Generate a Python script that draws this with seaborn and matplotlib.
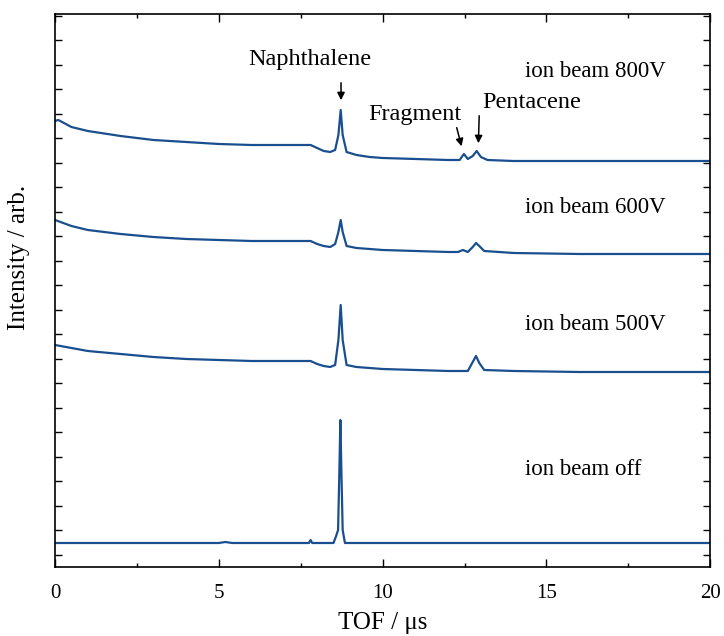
import numpy as np
import pandas as pd
import matplotlib
matplotlib.use("Agg")
import matplotlib.pyplot as plt
import seaborn as sns

# TOF in microseconds, intensity in arbitrary units (stacked traces)
tof_off = [0, 5.0, 5.2, 5.4, 6.5, 7.5, 7.75, 7.8, 7.85, 8.0, 8.5, 8.58, 8.64, 8.68, 8.71, 8.74, 8.78, 8.85, 9.5, 20]
int_off = [24, 24, 25, 24, 24, 24, 24, 27, 24, 24, 24, 31, 37, 97, 147, 97, 37, 24, 24, 24]

tof_500 = [0, 0.5, 1, 2, 3, 4, 5, 6, 7, 7.8, 8.0, 8.2, 8.4, 8.55, 8.65, 8.72, 8.78, 8.9, 9.2, 9.6,
           10, 11, 12, 12.6, 12.75, 12.85, 12.95, 13.1, 14, 16, 20]
int_500 = [222, 219, 216, 213, 210, 208, 207, 206, 206, 206, 203, 201, 200, 202, 227, 262, 227, 202, 200, 199,
           198, 197, 196, 196, 205, 211, 204, 197, 196, 195, 195]

tof_600 = [0, 0.5, 1, 2, 3, 4, 5, 6, 7, 7.8, 8.0, 8.2, 8.4, 8.55, 8.65, 8.72, 8.78, 8.9, 9.2, 9.6,
           10, 11, 12, 12.3, 12.45, 12.6, 12.75, 12.85, 12.95, 13.1, 14, 16, 20]
int_600 = [347, 341, 337, 333, 330, 328, 327, 326, 326, 326, 323, 321, 320, 323, 335, 347, 335, 321, 319, 318,
           317, 316, 315, 315, 317, 315, 320, 324, 321, 316, 314, 313, 313]

tof_800 = [0, 0.1, 0.5, 1, 2, 3, 4, 5, 6, 7, 7.8, 8.0, 8.2, 8.4, 8.55, 8.65, 8.72, 8.78, 8.9, 9.2, 9.6,
           10, 11, 12, 12.35, 12.48, 12.6, 12.75, 12.87, 13.0, 13.2, 14, 16, 20]
int_800 = [446, 447, 440, 436, 431, 427, 425, 423, 422, 422, 422, 419, 416, 415, 417, 432, 457, 432, 415, 412, 410,
           409, 408, 407, 407, 413, 408, 411, 416, 410, 407, 406, 406, 406]

traces = {"ion beam off": (tof_off, int_off),
          "ion beam 500V": (tof_500, int_500),
          "ion beam 600V": (tof_600, int_600),
          "ion beam 800V": (tof_800, int_800)}

sns.set_style("ticks", {"axes.edgecolor": "black", "text.color": "black", "axes.labelcolor": "black",
                        "xtick.color": "black", "ytick.color": "black"})
plt.rcParams["font.family"] = ["Liberation Serif", "DejaVu Serif"]

fig = plt.figure(figsize=(7.24, 6.36), dpi=100)
ax = fig.add_axes([0.076, 0.1085, 0.905, 0.8695])

color = "#1a4f8f"
for name, (x, y) in traces.items():
    df = pd.DataFrame({"tof": x, "intensity": y})
    sns.lineplot(data=df, x="tof", y="intensity", ax=ax, color=color, lw=1.6, sort=False)

ax.set_xlim(0, 20)
ax.set_ylim(0, 553)
ax.set_xticks([0, 5, 10, 15, 20])
ax.set_xticks([2.5, 7.5, 12.5, 17.5], minor=True)
ax.set_yticks(np.arange(12, 553, 24.5))
ax.set_yticklabels([])
ax.tick_params(direction="in", top=True, right=True, length=6, width=1, labelsize=15, pad=12)
ax.tick_params(which="minor", direction="in", top=True, right=True, length=3, width=1)
ax.tick_params(axis="y", length=5)
for s in ax.spines.values():
    s.set_linewidth(1.2)
ax.set_xlabel("TOF / μs", fontsize=18, labelpad=7)
ax.set_ylabel("")
fig.text(19 / 724, 1 - 257 / 636, "Intensity / arb.", rotation=90, ha="center", va="center", fontsize=18)

fs = 17.5
arrow = dict(arrowstyle="-|>", color="black", lw=1.1, mutation_scale=11)
ax.text(7.79, 507, "Naphthalene", ha="center", va="center", fontsize=fs)
ax.annotate("", xy=(8.73, 464), xytext=(8.73, 487), arrowprops=arrow)
ax.text(11.0, 452, "Fragment", ha="center", va="center", fontsize=fs)
ax.annotate("", xy=(12.43, 418), xytext=(12.24, 442), arrowprops=arrow)
ax.text(14.56, 464, "Pentacene", ha="center", va="center", fontsize=fs)
ax.annotate("", xy=(12.92, 421), xytext=(12.95, 454), arrowprops=arrow)

label_pos = {"ion beam 800V": 495, "ion beam 600V": 359, "ion beam 500V": 242, "ion beam off": 97}
for name, yy in label_pos.items():
    ax.text(14.35, yy, name, ha="left", va="center", fontsize=16.5)

fig.savefig("out.png", dpi=100)
